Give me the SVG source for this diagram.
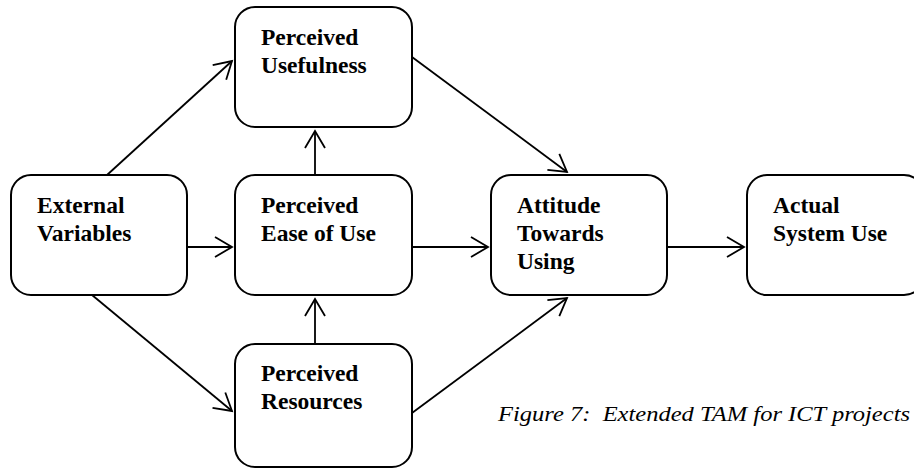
<svg xmlns="http://www.w3.org/2000/svg" width="914" height="470" viewBox="0 0 914 470">
<style>
.box{fill:#fff;stroke:#000;stroke-width:2}
.lbl{font-family:'Liberation Serif','Times New Roman',Times,serif;font-weight:700;font-size:23.5px;fill:#000}
.cap{font-family:'Liberation Serif','Times New Roman',Times,serif;font-style:italic;font-size:20px;fill:#000}
.conn{stroke:#000;stroke-width:1.8;fill:none;marker-end:url(#arr)}
</style>
<defs>
<marker id="arr" markerUnits="userSpaceOnUse" markerWidth="22" markerHeight="24" viewBox="-19 -12 22 24" refX="0" refY="0" orient="auto">
<path d="M-17,-10 L0,0 L-17,10" fill="none" stroke="#000" stroke-width="1.8" stroke-linejoin="miter"/>
</marker>
</defs>
<rect width="914" height="470" fill="#fff"/>
<g id="connectors">
<line class="conn" x1="107" y1="175" x2="232" y2="61"/>
<line class="conn" x1="187" y1="247" x2="232" y2="247"/>
<line class="conn" x1="92" y1="295" x2="232" y2="411"/>
<line class="conn" x1="315" y1="175" x2="315" y2="131"/>
<line class="conn" x1="315" y1="344" x2="315" y2="299"/>
<line class="conn" x1="412" y1="57" x2="567" y2="172"/>
<line class="conn" x1="412" y1="247" x2="488" y2="247"/>
<line class="conn" x1="412" y1="413" x2="567" y2="298"/>
<line class="conn" x1="667" y1="247" x2="744" y2="247"/>
</g>
<g id="external-variables">
<rect class="box" x="11" y="175" width="176" height="120" rx="20"/>
<text class="lbl" font-family="Liberation Serif" x="37" y="213">External</text>
<text class="lbl" font-family="Liberation Serif" x="37" y="241">Variables</text>
</g>
<g id="perceived-usefulness">
<rect class="box" x="235" y="7" width="177" height="120" rx="20"/>
<text class="lbl" x="261" y="45">Perceived</text>
<text class="lbl" x="261" y="73">Usefulness</text>
</g>
<g id="perceived-ease-of-use">
<rect class="box" x="235" y="175" width="177" height="120" rx="20"/>
<text class="lbl" x="261" y="213">Perceived</text>
<text class="lbl" x="261" y="241">Ease of Use</text>
</g>
<g id="perceived-resources">
<rect class="box" x="235" y="344" width="177" height="123" rx="20"/>
<text class="lbl" x="261" y="381">Perceived</text>
<text class="lbl" x="261" y="409">Resources</text>
</g>
<g id="attitude-towards-using">
<rect class="box" x="491" y="175" width="176" height="120" rx="20"/>
<text class="lbl" x="517" y="213">Attitude</text>
<text class="lbl" x="517" y="241">Towards</text>
<text class="lbl" x="517" y="269">Using</text>
</g>
<g id="actual-system-use">
<rect class="box" x="747" y="175" width="177" height="120" rx="20"/>
<text class="lbl" x="773" y="213">Actual</text>
<text class="lbl" x="773" y="241">System Use</text>
</g>
<text class="cap" x="498" y="421" textLength="412" lengthAdjust="spacingAndGlyphs" xml:space="preserve">Figure 7:  Extended TAM for ICT projects</text>
</svg>
